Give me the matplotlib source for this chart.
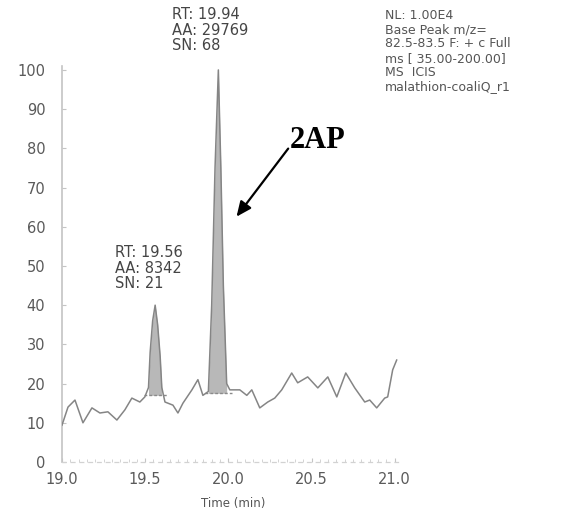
import numpy as np
import matplotlib
matplotlib.use("Agg")
import matplotlib.pyplot as plt
from matplotlib.ticker import MultipleLocator

# Chromatogram trace: retention time (min) and relative abundance (%)
time_min = [19.000, 19.036, 19.078, 19.126, 19.180, 19.228, 19.276, 19.330,
            19.378, 19.420, 19.468, 19.498,
            19.520, 19.530, 19.545, 19.560, 19.575, 19.590, 19.600,
            19.619, 19.667, 19.697, 19.727, 19.781, 19.817, 19.847, 19.880,
            19.900, 19.920, 19.940, 19.955, 19.970, 19.990,
            20.009, 20.069, 20.111, 20.141, 20.189, 20.237, 20.279, 20.321,
            20.381, 20.417, 20.477, 20.538, 20.598, 20.652, 20.706, 20.760,
            20.820, 20.850, 20.892, 20.940, 20.958, 20.988, 21.012]
abundance = [9.4, 14.0, 15.8, 10.0, 13.8, 12.5, 12.8, 10.7,
             13.3, 16.3, 15.3, 16.6,
             19.0, 28.0, 36.0, 40.0, 35.0, 27.0, 19.0,
             15.3, 14.5, 12.5, 15.0, 18.4, 21.0, 17.0, 18.0,
             40.0, 75.0, 100.0, 75.0, 45.0, 20.0,
             18.4, 18.4, 17.0, 18.4, 13.8, 15.3, 16.3, 18.4,
             22.7, 20.2, 21.7, 18.9, 21.7, 16.6, 22.7, 18.9,
             15.3, 15.8, 13.8, 16.3, 16.6, 23.5, 26.0]

# Integrated peaks: (start, end, integration baseline)
peak_windows = [(19.51, 19.61, 17.0), (19.88, 20.00, 17.5)]

# Peak annotations
peak_labels = [
    ("RT: 19.56\nAA: 8342\nSN: 21", 19.56),
    ("RT: 19.94\nAA: 29769\nSN: 68", 19.94),
]

header_lines = ["NL: 1.00E4", "Base Peak m/z=", "82.5-83.5 F: + c Full",
                "ms [ 35.00-200.00]", "MS  ICIS", "malathion-coaliQ_r1"]

x_ticks = [19.0, 19.5, 20.0, 20.5, 21.0]
y_ticks = list(range(0, 101, 10))

W, H = 571, 516
fig = plt.figure(figsize=(W / 100, H / 100), dpi=100)
ax = fig.add_axes([62 / W, 1 - 462 / H, (398 - 62) / W, (462 - 66) / H])

t = np.array(time_min)
a = np.array(abundance)

# shaded integrated areas
for t0, t1, base in peak_windows:
    m = (t >= t0) & (t <= t1)
    ax.fill_between(t[m], base, a[m], color="#b8b8b8", linewidth=0, zorder=1)
    ax.plot([t0 - 0.02, t1 + 0.02], [base, base], color="#8a8a8a",
            lw=1.0, ls=(0, (2, 1.5)), zorder=2)

ax.plot(t, a, color="#858585", lw=1.1, zorder=3)

ax.set_xlim(19.0, 21.02)
ax.set_ylim(0, 101)
ax.set_xticks(x_ticks)
ax.set_xticklabels(["19.0", "19.5", "20.0", "20.5", "21.0"])
ax.set_yticks(y_ticks)
ax.xaxis.set_minor_locator(MultipleLocator(0.05))

for s in ("top", "right"):
    ax.spines[s].set_visible(False)
ax.spines["left"].set_color("#c4c4c4")
ax.spines["left"].set_linewidth(1.2)
ax.spines["bottom"].set_color("#d2d2d2")
ax.spines["bottom"].set_linestyle((0, (3, 4)))
ax.spines["bottom"].set_linewidth(0.9)

ax.tick_params(axis="y", direction="in", length=3, color="#c4c4c4",
               labelsize=10.5, labelcolor="#5a5a5a", pad=12)
ax.tick_params(axis="x", which="major", direction="in", length=3,
               color="#c4c4c4", labelsize=10.5, labelcolor="#5a5a5a", pad=7)
ax.tick_params(axis="x", which="minor", direction="in", length=2,
               color="#cccccc")
for lab in ax.get_xticklabels() + ax.get_yticklabels():
    lab.set_fontfamily("DejaVu Sans")

ax.set_xlabel("Time (min)", fontsize=8.5, color="#555555")
ax.xaxis.set_label_coords(0.51, -0.088)

# peak labels
label_pos = [(115, 245), (172, 7)]
for (txt, _), (px, py) in zip(peak_labels, label_pos):
    fig.text(px / W, 1 - py / H, txt, ha="left", va="top", fontsize=10.5,
             color="#454545", linespacing=1.05)

fig.text(385 / W, 1 - 9 / H, "\n".join(header_lines), ha="left", va="top",
         fontsize=9, color="#555555", linespacing=1.12)

# compound callout
ax.annotate("", xy=(20.039, 62.0), xytext=(20.37, 80.5),
            arrowprops=dict(arrowstyle="-|>,head_length=0.9,head_width=0.4",
                            color="black", lw=1.6))
ax.text(20.37, 80.0, "2AP", fontsize=22, fontweight="bold",
        fontfamily="Liberation Serif", ha="left", va="baseline", color="black")

fig.savefig("out.png", dpi=100, facecolor="white")
